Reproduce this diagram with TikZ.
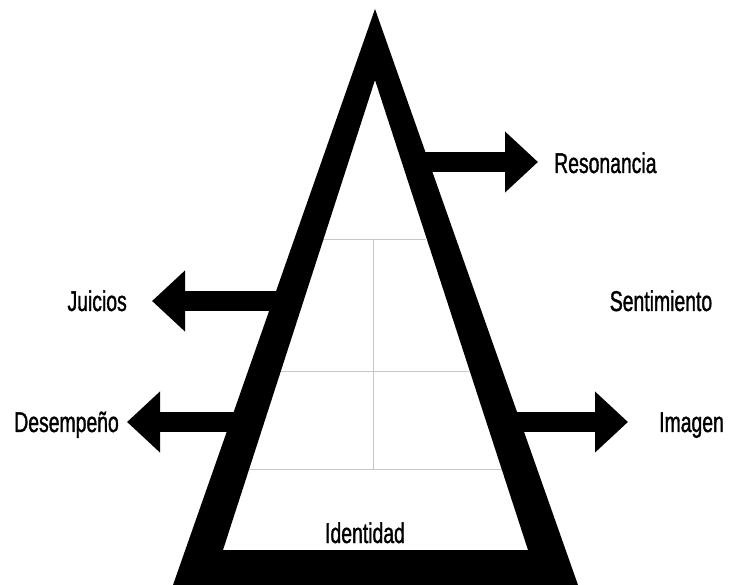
\documentclass[tikz,border=0pt]{standalone}
\usepackage{fontspec}
\usepackage{tikz}
\usetikzlibrary{arrows.meta, positioning}
\newfontfamily\etiquetafont[FakeStretch=0.68, FakeBold=1.2]{Liberation Sans}
\tikzset{
  etiqueta/.style={
    inner sep=0pt,
    font=\etiquetafont\fontsize{28.5}{30}\selectfont,
  },
  flecha/.style={
    line width=20pt,
    -{Triangle[length=33pt, width=59pt]}
  },
  rejilla/.style={
    draw=black!22,
    line width=0.8pt
  }
}

\begin{document}
\begin{tikzpicture}[x=1pt, y=-1pt]
  \useasboundingbox (0,0) rectangle (729,585);

  % Rejilla interior
  \draw[rejilla] (323,239) -- (426,239);
  \draw[rejilla] (281,371) -- (469,371);
  \draw[rejilla] (249,469) -- (502,469);
  \draw[rejilla] (373,239) -- (373,469);

  % Piramide
  \fill[even odd rule]
    (375,9) -- (578,585) -- (173,585) -- cycle
    (375,80) -- (528,550) -- (223,550) -- cycle;

  % Extremos de las flechas
  \coordinate (res0) at (405,162);
  \coordinate (res1) at (538,162);
  \coordinate (jui0) at (285,301);
  \coordinate (jui1) at (152,301);
  \coordinate (des0) at (258,422);
  \coordinate (des1) at (127,422);
  \coordinate (ima0) at (497,422);
  \coordinate (ima1) at (628,422);

  % Flechas
  \draw[flecha] (res0) -- (res1);
  \draw[flecha] (jui0) -- (jui1);
  \draw[flecha] (des0) -- (des1);
  \draw[flecha] (ima0) -- (ima1);

  % Etiquetas
  \node[etiqueta, anchor=base west] (resonancia) at (554,173) {Resonancia};
  \node[etiqueta, anchor=base east] (juicios) at (127,311) {Juicios};
  \node[etiqueta, anchor=base] (sentimiento) at (661,311) {Sentimiento};
  \node[etiqueta, anchor=base east] (desempeno) at (119,432) {Desempeño};
  \node[etiqueta, anchor=base west] (imagen) at (659,432) {Imagen};
  \node[etiqueta, anchor=base] (identidad) at (365,543) {Identidad};
\end{tikzpicture}
\end{document}
